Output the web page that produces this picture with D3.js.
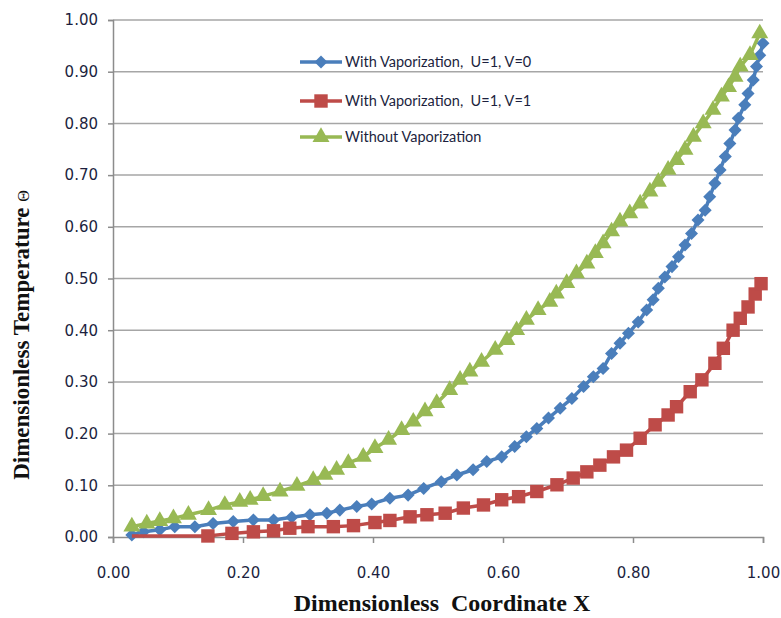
<!DOCTYPE html>
<html><head><meta charset="utf-8">
<script src="https://cdn.jsdelivr.net/npm/d3@7"></script>
<style>body{margin:0;background:#fff}svg{display:block}</style>
</head><body>
<svg id="chart" width="781" height="618"></svg>
<script>
const xTicks = [0, 0.2, 0.4, 0.6, 0.8, 1.0];
const yTicks = [0, 0.1, 0.2, 0.3, 0.4, 0.5, 0.6, 0.7, 0.8, 0.9, 1.0];
const seriesNames = ["With Vaporization,  U=1, V=0", "With Vaporization,  U=1, V=1", "Without Vaporization"];

const blueX = [0.029,0.047,0.072,0.095,0.126,0.154,0.185,0.216,0.247,0.275,0.303,0.329,0.349,0.375,0.398,0.426,0.454,0.478,0.505,0.529,0.554,0.575,0.598,0.618,0.636,0.652,0.670,0.688,0.706,0.724,0.739,0.754,0.767,0.780,0.793,0.808,0.821,0.831,0.839,0.849,0.860,0.870,0.880,0.890,0.900,0.911,0.918,0.926,0.934,0.942,0.949,0.957,0.962,0.972,0.977,0.985,0.990,0.995,1.000];
const blueY = [0.004,0.010,0.014,0.020,0.020,0.026,0.030,0.033,0.033,0.038,0.043,0.046,0.052,0.059,0.064,0.075,0.081,0.094,0.107,0.120,0.130,0.146,0.155,0.175,0.194,0.210,0.230,0.249,0.268,0.291,0.310,0.326,0.355,0.375,0.394,0.416,0.439,0.459,0.481,0.503,0.523,0.542,0.565,0.587,0.613,0.632,0.658,0.684,0.710,0.736,0.761,0.787,0.810,0.836,0.858,0.884,0.910,0.932,0.955];

const redX = [0.029,0.146,0.183,0.216,0.247,0.272,0.300,0.339,0.370,0.403,0.426,0.457,0.483,0.511,0.539,0.570,0.598,0.624,0.652,0.683,0.708,0.729,0.749,0.770,0.790,0.811,0.834,0.854,0.867,0.888,0.906,0.926,0.939,0.954,0.965,0.977,0.988,0.997];
const redY = [0.002,0.002,0.007,0.010,0.012,0.017,0.020,0.020,0.022,0.028,0.032,0.039,0.043,0.046,0.056,0.062,0.072,0.078,0.088,0.101,0.114,0.126,0.139,0.155,0.168,0.191,0.217,0.236,0.252,0.281,0.304,0.336,0.365,0.400,0.423,0.445,0.470,0.490];

const greenX = [0.029,0.052,0.072,0.093,0.116,0.147,0.172,0.195,0.211,0.231,0.257,0.283,0.308,0.326,0.344,0.362,0.385,0.403,0.424,0.444,0.462,0.480,0.498,0.518,0.534,0.549,0.567,0.588,0.606,0.621,0.636,0.654,0.672,0.682,0.698,0.713,0.729,0.742,0.754,0.767,0.780,0.795,0.811,0.826,0.839,0.854,0.867,0.880,0.893,0.908,0.923,0.936,0.947,0.957,0.965,0.980,0.995];
const greenY = [0.020,0.026,0.031,0.036,0.043,0.052,0.062,0.068,0.072,0.079,0.088,0.099,0.110,0.120,0.130,0.143,0.155,0.172,0.188,0.207,0.223,0.243,0.259,0.284,0.304,0.320,0.339,0.362,0.381,0.400,0.420,0.439,0.455,0.471,0.491,0.510,0.529,0.549,0.568,0.591,0.610,0.626,0.645,0.668,0.687,0.710,0.729,0.749,0.774,0.800,0.826,0.852,0.870,0.890,0.910,0.932,0.974];

const colors = ["#4A7EBB", "#BE4B48", "#98B954"];

const svg = d3.select("#chart");
const x = d3.scaleLinear().domain([0, 1]).range([113, 763]);
const y = d3.scaleLinear().domain([0, 1]).range([537, 20]);
const gridColor = "#A6A6A6";
const tickFont = "DejaVu Sans, Verdana, sans-serif";
const tickColor = "#1C1F3E";

// gridlines
svg.append("g").selectAll("line").data(yTicks.filter(d => d > 0)).join("line")
  .attr("x1", x(0)).attr("x2", x(1)).attr("y1", d => y(d)).attr("y2", d => y(d))
  .attr("stroke", gridColor).attr("stroke-width", 1.5);

// axes
const yAxis = svg.append("g").attr("transform", `translate(${x(0)},0)`)
  .call(d3.axisLeft(y).tickValues(yTicks).tickFormat(d3.format(".2f")).tickSize(5).tickPadding(10));
const xAxis = svg.append("g").attr("transform", `translate(0,${y(0)})`)
  .call(d3.axisBottom(x).tickValues(xTicks).tickFormat(d3.format(".2f")).tickSize(6).tickPadding(24));
[yAxis, xAxis].forEach(a => {
  a.select(".domain").attr("stroke", "#8C8C8C").attr("stroke-width", 1.5);
  a.selectAll(".tick line").attr("stroke", "#8C8C8C").attr("stroke-width", 1.5);
  a.selectAll(".tick text").attr("fill", tickColor).style("font-family", tickFont).style("font-size", "15px");
});

// markers
const diamond = {draw(ctx, size) { const r = Math.sqrt(size / 2); ctx.moveTo(0, -r); ctx.lineTo(r, 0); ctx.lineTo(0, r); ctx.lineTo(-r, 0); ctx.closePath(); }};
const symType = {diamond: diamond, square: d3.symbolSquare, triangle: d3.symbolTriangle};
const symSize = {diamond: 85, square: 180, triangle: 125};

const series = [
  {xs: blueX, ys: blueY, c: colors[0], m: "diamond", skip: 0},
  {xs: redX, ys: redY, c: colors[1], m: "square", skip: 1},
  {xs: greenX, ys: greenY, c: colors[2], m: "triangle", skip: 0}
];
const line = d3.line().x(d => x(d[0])).y(d => y(d[1]));

series.forEach(s => {
  const pts = s.xs.map((v, i) => [v, s.ys[i]]);
  const g = svg.append("g");
  g.append("path").datum(pts).attr("d", line).attr("fill", "none")
    .attr("stroke", s.c).attr("stroke-width", 3.5);
  g.selectAll("path.m").data(pts.slice(s.skip)).join("path").attr("class", "m")
    .attr("transform", d => `translate(${x(d[0])},${y(d[1])})`)
    .attr("d", d3.symbol().type(symType[s.m]).size(symSize[s.m]))
    .attr("fill", s.c);
});

// legend
const legY = [62, 101, 137];
const lg = svg.append("g");
seriesNames.forEach((name, i) => {
  const s = series[i];
  lg.append("line").attr("x1", 300).attr("x2", 342).attr("y1", legY[i]).attr("y2", legY[i])
    .attr("stroke", s.c).attr("stroke-width", 3.5);
  lg.append("path").attr("transform", `translate(321,${legY[i]})`)
    .attr("d", d3.symbol().type(symType[s.m]).size(symSize[s.m])).attr("fill", s.c);
  lg.append("text").attr("x", 345).attr("y", legY[i]).attr("dy", "0.35em")
    .attr("fill", "#1C1F3E").style("font-family", "Lato, 'Open Sans', sans-serif")
    .style("font-size", "14.5px").style("white-space", "pre").text(name);
});

// axis titles
svg.append("text").attr("x", 442).attr("y", 611).attr("text-anchor", "middle")
  .style("font-family", "'Liberation Serif', 'Times New Roman', serif").style("font-weight", "bold")
  .style("font-size", "24px").style("white-space", "pre").attr("fill", "#111").text("Dimensionless  Coordinate X");
const yt = svg.append("text").attr("transform", "translate(29,335) rotate(-90)").attr("text-anchor", "middle")
  .style("font-family", "'Liberation Serif', 'Times New Roman', serif").style("font-weight", "bold")
  .style("font-size", "23px").attr("fill", "#111");
yt.append("tspan").text("Dimensionless Temperature ");
yt.append("tspan").style("font-size", "16px").style("font-weight", "normal").text("Θ");
</script>
</body></html>
